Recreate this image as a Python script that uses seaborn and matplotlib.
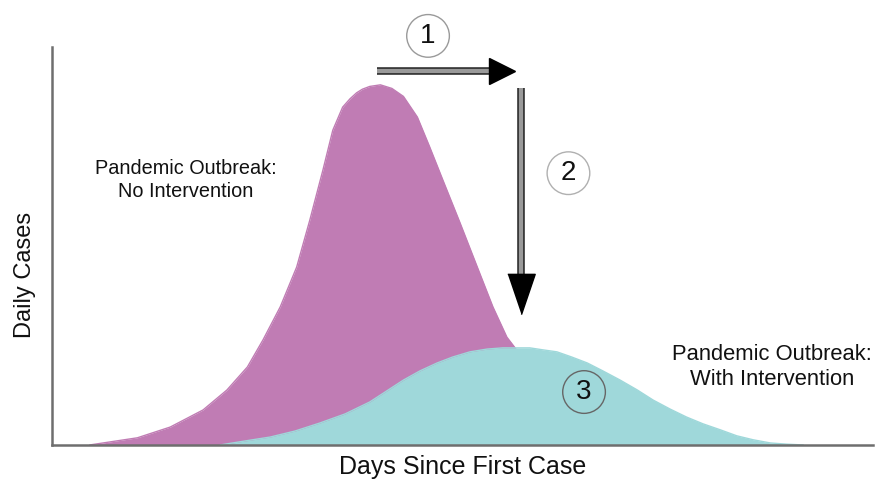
import matplotlib
matplotlib.use("Agg")
import matplotlib.pyplot as plt
import matplotlib.patheffects as pe
import pandas as pd
import seaborn as sns

# curve outlines (days since first case, daily cases)
no_interv_days = [4.6, 10.4, 14.4, 18.4, 21.3, 23.8, 25.7, 27.8, 29.8, 31.4, 33.0,
                  34.2, 35.4, 36.3, 37.1, 37.8, 38.7, 40.0, 41.4, 42.8, 44.5, 46.0,
                  47.6, 49.7, 51.8, 53.7, 55.4, 56.4, 59.4, 63.1, 66.7, 71.6, 76.5]
no_interv_cases = [0, 1.8, 4.5, 8.8, 13.8, 19.6, 26.4, 34.7, 44.7, 56.5, 69.1,
                   79.1, 84.9, 87.0, 88.5, 89.4, 90.1, 90.5, 89.6, 87.6, 82.4, 74.9,
                   66.6, 55.8, 44.7, 34.7, 27.1, 24.4, 15.1, 7.5, 3.3, 0.8, 0]

with_interv_days = [20.5, 23.5, 26.6, 29.6, 32.6, 35.7, 38.7, 42.8, 44.8, 46.9, 48.8,
                    50.9, 53.0, 54.9, 56.6, 58.2, 59.8, 61.5, 63.3, 65.2, 67.1, 69.2,
                    71.3, 73.2, 75.3, 77.3, 79.3, 81.4, 83.4, 85.4, 87.5, 89.5, 91.5]
with_interv_cases = [0, 1.0, 2.0, 3.5, 5.5, 7.8, 10.8, 16.3, 18.6, 20.6, 22.1,
                     23.4, 24.1, 24.4, 24.4, 24.4, 23.9, 23.4, 22.1, 20.6, 18.6, 16.3,
                     13.8, 11.3, 9.0, 7.0, 5.3, 3.8, 2.3, 1.3, 0.5, 0.2, 0]

no_interv_label = "Pandemic Outbreak:\nNo Intervention"
with_interv_label = "Pandemic Outbreak:\nWith Intervention"
step_labels = ["1", "2", "3"]

purple = "#c07cb4"
teal = "#9fd8da"

sns.set_style("white")
plt.rcParams["font.family"] = ["Liberation Sans", "DejaVu Sans"]

fig = plt.figure(figsize=(8.81, 4.8), dpi=100)
ax = fig.add_axes([0.059, 0.073, 0.932, 0.829])

df_no = pd.DataFrame({"day": no_interv_days, "cases": no_interv_cases})
df_with = pd.DataFrame({"day": with_interv_days, "cases": with_interv_cases})

ax.fill_between(df_no["day"], 0, df_no["cases"], color=purple, lw=0, zorder=1)
sns.lineplot(data=df_no, x="day", y="cases", color=purple, lw=1, ax=ax, zorder=1)
ax.fill_between(df_with["day"], 0, df_with["cases"], color=teal, lw=0, zorder=2)
sns.lineplot(data=df_with, x="day", y="cases", color=teal, lw=1, ax=ax, zorder=2)

ax.set_xlim(0, 100)
ax.set_ylim(0, 100)
ax.set_xticks([])
ax.set_yticks([])
sns.despine(ax=ax)
for side in ["left", "bottom"]:
    ax.spines[side].set_color("#6e6e6e")
    ax.spines[side].set_linewidth(1.8)

ax.set_xlabel("Days Since First Case", fontsize=18, color="#111111")
ax.set_ylabel("Daily Cases", fontsize=17, color="#111111")
ax.xaxis.set_label_coords(0.5, -0.025)
ax.yaxis.set_label_coords(-0.02, 0.427)

ax.text(16.3, 66.6, no_interv_label, fontsize=14.3, ha="center", va="center",
        multialignment="center", linespacing=1.3, color="#111111")
ax.text(87.7, 19.6, with_interv_label, fontsize=15.8, ha="center", va="center",
        multialignment="center", linespacing=1.3, color="#111111")

# arrows: gray shaft with dark outline, black head
shaft = [pe.withStroke(linewidth=5.5, foreground="#333333")]
ax.plot([39.6, 53.6], [94.0, 94.0], color="#9a9a9a", lw=3, solid_capstyle="butt",
        path_effects=shaft, clip_on=False, zorder=5)
ax.plot(54.8, 94.0, marker=">", ms=19, color="black", mec="black", clip_on=False, zorder=6)

ax.plot([57.1, 57.1], [89.7, 41.5], color="#9a9a9a", lw=3, solid_capstyle="butt",
        path_effects=shaft, zorder=5)
head_down = [(-0.34, 0.5), (0.34, 0.5), (0, -0.5)]
ax.plot(57.1, 37.9, marker=head_down, ms=29, color="black", mec="black", zorder=6)

# numbered circles
circle_pos = [(45.8, 102.8, "#9a9a9a"), (62.9, 68.3, "#b0b0b0"), (64.8, 13.3, "#666666")]
for label, (cx, cy, ec) in zip(step_labels, circle_pos):
    ax.text(cx, cy, label, fontsize=20, ha="center", va="center", color="#111111",
            zorder=7, clip_on=False,
            bbox=dict(boxstyle="circle,pad=0.3", fc="none", ec=ec, lw=1))

fig.savefig("out.png", dpi=100)
